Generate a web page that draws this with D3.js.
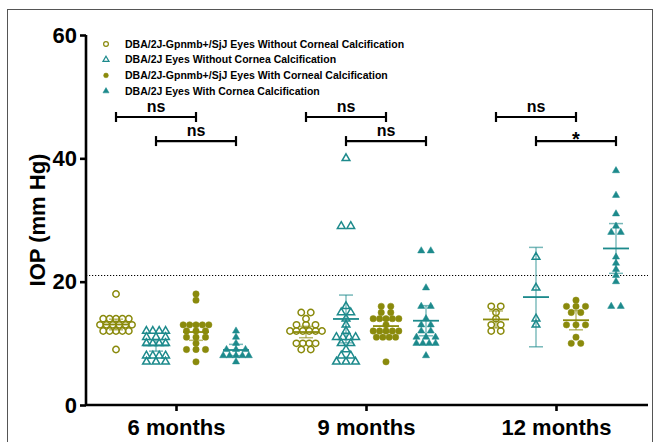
<!DOCTYPE html>
<html lang="en">
<head>
  <meta charset="UTF-8">
  <title>IOP by age</title>
  <script src="https://d3js.org/d3.v7.min.js"></script>
  <style>
    body { margin: 0; background: #fff; }
    text { font-family: 'Liberation Sans', Arial, sans-serif; font-weight: bold; fill: #000; }
  </style>
</head>
<body>
  <script>
    var months = ["6 months", "9 months", "12 months"];
    var seriesNames = [
      "DBA/2J-Gpnmb+/SjJ Eyes Without Corneal Calcification",
      "DBA/2J Eyes Without Cornea Calcification",
      "DBA/2J-Gpnmb+/SjJ Eyes With Corneal Calcification",
      "DBA/2J Eyes With Cornea Calcification"
    ];

    // IOP values (mm Hg), one array per time point
    var gpnmbNoCalc = [
      [18, 14, 14, 14, 14, 14, 13, 13, 13, 13, 13, 13, 12, 12, 12, 12, 12, 9],
      [15, 15, 14, 13, 13, 13, 12, 12, 12, 12, 12, 12, 10, 10, 10, 10, 9, 9],
      [16, 16, 15, 14, 13, 13, 12, 12]
    ];
    var d2jNoCalc = [
      [12, 12, 12, 12, 11, 11, 11, 10, 10, 10, 10, 8, 8, 8, 8, 7, 7, 7],
      [40, 29, 29, 16, 15, 15, 14, 13, 12, 11, 11, 11, 11, 10, 10, 9, 8, 8, 7, 7, 7],
      [24, 19, 14, 13]
    ];
    var gpnmbCalc = [
      [18, 17, 13, 13, 13, 13, 13, 12, 12, 12, 11, 11, 11, 10, 9, 9, 9, 7],
      [16, 16, 15, 15, 14, 14, 14, 14, 14, 13, 12, 12, 12, 12, 12, 11, 11, 11, 11, 7],
      [17, 16, 16, 16, 15, 15, 13, 13, 13, 11, 10, 10]
    ];
    var d2jCalc = [
      [12, 11, 10, 9, 9, 9, 8, 8, 8, 8, 8, 7],
      [25, 25, 19, 16, 16, 14, 13, 13, 12, 12, 11, 11, 11, 10, 10, 10, 10, 8],
      [38, 34, 31, 29, 28, 28, 24, 23, 22, 21, 20, 16, 16]
    ];
    var yTicks = [0, 20, 40, 60];
    var threshold = 21;
    // comparisons: series index pairs and their labels per time point
    var pairs = [[0, 2], [1, 3]];
    var pairLabels = [["ns", "ns"], ["ns", "ns"], ["ns", "*"]];

    var allSeries = [gpnmbNoCalc, d2jNoCalc, gpnmbCalc, d2jCalc];
    var olive = "#8a8a0c", teal = "#1d8a8c";
    var colors = [olive, teal, olive, teal];
    var filled = [false, false, true, true];
    var shapes = [d3.symbolCircle, d3.symbolTriangle, d3.symbolCircle, d3.symbolTriangle];

    var tCrit = [0, 12.706, 4.303, 3.182, 2.776, 2.571, 2.447, 2.365, 2.306, 2.262, 2.228, 2.201,
      2.179, 2.160, 2.145, 2.131, 2.120, 2.110, 2.101, 2.093, 2.086, 2.080, 2.074, 2.069, 2.064, 2.060];

    var W = 660, H = 442;
    var pL = 86, pR = 646, pT = 35, pB = 405;

    var svg = d3.select("body").append("svg")
      .attr("width", W).attr("height", H);

    svg.append("rect")
      .attr("x", 7.5).attr("y", 9.5)
      .attr("width", 645).attr("height", 450)
      .attr("fill", "none").attr("stroke", "#555").attr("stroke-width", 1);

    var y = d3.scaleLinear().domain([0, 60]).range([pB, pT]);
    var x = d3.scalePoint().domain(months).range([pL, pR]).padding(0.4737);
    var xs = d3.scalePoint().domain([0, 1, 2, 3]).range([-60, 60]);

    // threshold line
    svg.append("line")
      .attr("x1", pL).attr("x2", pR + 2)
      .attr("y1", y(threshold)).attr("y2", y(threshold))
      .attr("stroke", "#000").attr("stroke-width", 1.2)
      .attr("stroke-dasharray", "1.2,1.8");

    // axes
    var yAxis = svg.append("g")
      .attr("transform", "translate(" + pL + ",0)")
      .call(d3.axisLeft(y).tickValues(yTicks).tickSize(6).tickPadding(3));
    var xAxis = svg.append("g")
      .attr("transform", "translate(0," + pB + ")")
      .call(d3.axisBottom(x).tickSize(6).tickPadding(8));
    [yAxis, xAxis].forEach(function (a) {
      a.select(".domain").attr("stroke-width", 2.6).attr("stroke", "#000");
      a.selectAll(".tick line").attr("stroke-width", 2.6).attr("stroke", "#000");
      a.selectAll("text").style("font-size", "22px").attr("fill", "#000");
    });
    yAxis.select(".domain").attr("d", "M0," + pT + "V" + pB);
    xAxis.select(".domain").attr("d", "M" + pL + ",0H" + (pR + 2));

    svg.append("text")
      .attr("transform", "translate(45," + ((pT + pB) / 2) + ")rotate(-90)")
      .attr("text-anchor", "middle")
      .style("font-size", "22px")
      .text("IOP (mm Hg)");

    // mean and 95% CI
    function stats(v) {
      var n = v.length, m = d3.mean(v), sd = d3.deviation(v);
      var h = tCrit[Math.min(n - 1, tCrit.length - 1)] * sd / Math.sqrt(n);
      return { mean: m, lo: m - h, hi: m + h };
    }

    var plot = svg.append("g");

    allSeries.forEach(function (series, si) {
      series.forEach(function (vals, mi) {
        var cx = x(months[mi]) + xs(si);
        var s = stats(vals);
        var g = plot.append("g");
        g.append("line")
          .attr("x1", cx).attr("x2", cx)
          .attr("y1", y(s.lo)).attr("y2", y(s.hi))
          .attr("stroke", colors[si]).attr("stroke-width", 1.2).attr("opacity", 0.7);
        [s.lo, s.hi].forEach(function (v) {
          g.append("line")
            .attr("x1", cx - 7).attr("x2", cx + 7)
            .attr("y1", y(v)).attr("y2", y(v))
            .attr("stroke", colors[si]).attr("stroke-width", 1.5).attr("opacity", 0.6);
        });
        g.append("line")
          .attr("x1", cx - 13).attr("x2", cx + 13)
          .attr("y1", y(s.mean)).attr("y2", y(s.mean))
          .attr("stroke", colors[si]).attr("stroke-width", 1.8);

        // simple beeswarm: spread equal values side by side
        var rows = d3.group(vals, function (d) { return d; });
        var sym = d3.symbol().type(shapes[si]).size(si % 2 ? (filled[si] ? 22 : 26) : 32);
        rows.forEach(function (row, v) {
          var n = row.length, step = n <= 3 ? 9.5 : 6.4;
          row.forEach(function (d, i) {
            g.append("path")
              .attr("d", sym())
              .attr("transform", "translate(" + (cx + (i - (n - 1) / 2) * step) + "," + y(v) + ")")
              .attr("fill", filled[si] ? colors[si] : "none")
              .attr("stroke", colors[si])
              .attr("stroke-width", filled[si] ? 0.5 : 1.5);
          });
        });
      });
    });

    // significance brackets
    var bracketY = [46.7, 42.8];
    months.forEach(function (m, mi) {
      pairs.forEach(function (p, pi) {
        var x1 = x(m) + xs(p[0]), x2 = x(m) + xs(p[1]), by = y(bracketY[pi]);
        var g = svg.append("g").attr("stroke", "#000").attr("stroke-width", 2.2);
        g.append("line").attr("x1", x1).attr("x2", x2).attr("y1", by).attr("y2", by);
        g.append("line").attr("x1", x1).attr("x2", x1).attr("y1", by - 5).attr("y2", by + 5);
        g.append("line").attr("x1", x2).attr("x2", x2).attr("y1", by - 5).attr("y2", by + 5);
        var lab = pairLabels[mi][pi];
        svg.append("text")
          .attr("x", (x1 + x2) / 2).attr("y", lab === "*" ? by + 5 : by - 5)
          .attr("text-anchor", "middle")
          .style("font-size", lab === "*" ? "20px" : "16px")
          .text(lab);
      });
    });

    // legend
    var legend = svg.append("g").attr("transform", "translate(106,44)");
    seriesNames.forEach(function (name, si) {
      var row = legend.append("g").attr("transform", "translate(0," + (si * 15.7) + ")");
      row.append("path")
        .attr("d", d3.symbol().type(shapes[si]).size(si % 2 ? 16 : 18)())
        .attr("fill", filled[si] ? colors[si] : "none")
        .attr("stroke", colors[si])
        .attr("stroke-width", filled[si] ? 0.5 : 1.2);
      row.append("text")
        .attr("x", 19).attr("dy", "0.35em")
        .style("font-size", "10.5px")
        .text(name);
    });
  </script>
</body>
</html>
